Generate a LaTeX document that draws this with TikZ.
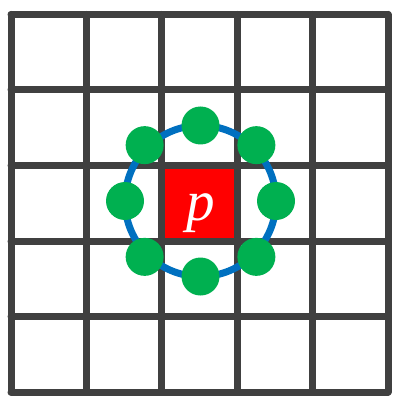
\documentclass[tikz,border=0pt]{standalone}
\usepackage{fontspec}
\setmainfont{Liberation Serif}
\definecolor{cGrid}{HTML}{404040}
\definecolor{cCell}{HTML}{FF0000}
\definecolor{cRing}{HTML}{0070C0}
\definecolor{cNbr}{HTML}{00B050}
\tikzset{
  gridline/.style={line width=7pt, draw=cGrid, line cap=round, line join=round},
  cell/.style={fill=cCell, inner sep=0pt, minimum width=75pt, minimum height=75pt},
  ring/.style={draw=cRing, circle, line width=7pt, inner sep=0pt, outer sep=0pt, minimum size=151pt},
  nbr/.style={circle, fill=cNbr, inner sep=0pt, minimum size=38pt},
}

\begin{document}
\begin{tikzpicture}[x=1pt,y=-1pt]
  \useasboundingbox (0,0) rectangle (394,398);
  % centre pixel
  \node[cell] (pix) at (200,203.5) {};
  % 5x5 grid
  \foreach \i in {0,...,5}{
    \draw[gridline] (11+75.4*\i,14.5) -- (11+75.4*\i,392);
    \draw[gridline] (11,14.5+75.5*\i) -- (388,14.5+75.5*\i);
  }
  \node[font=\fontsize{57}{57}\selectfont\itshape, text=white, anchor=base, inner sep=0pt] (plabel) at (201,220.5) {p};
  % ring of 8 neighbours
  \node[ring] (circ) at (200.5,201) {};
  \foreach \a in {0,90,180,270}
    \node[nbr] (n\a) at (circ.\a) {};
  \foreach \a in {45,135,225,315}
    \node[nbr] (n\a) at ([shift={(\a:79pt)}]circ.center) {};
\end{tikzpicture}
\end{document}
